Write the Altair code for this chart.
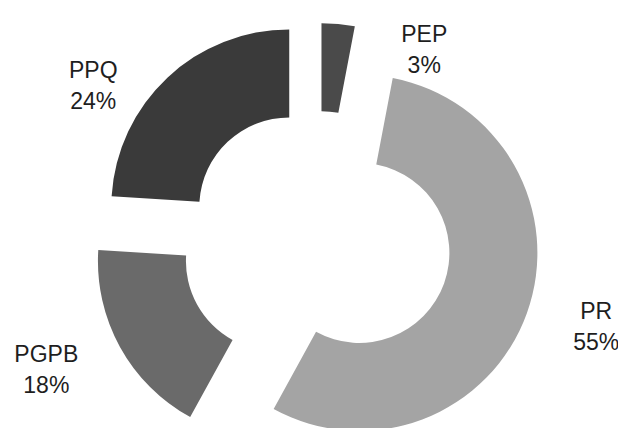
import math
import altair as alt
import pandas as pd

# ---- data ----
CATEGORIES = ["PEP", "PR", "PGPB", "PPQ"]
PERCENTS = [3, 55, 18, 24]

# ---- styles ----
COLORS = ["#4a4a4a", "#a4a4a4", "#6a6a6a", "#3a3a3a"]
EXPLODE = [37, 44, 48, 42]            # radial offset of each slice (px)
LABEL_SHIFT = [26.4, -5.8, 6.6, -11.9]  # label angle shift from slice mid-angle (deg)
LABEL_DIST = [195, 244, 248, 239]     # label distance from slice centre (px)
CX, CY = 310, 230
OUTER_R, INNER_R = 178, 90

df = pd.DataFrame({
    "cat": CATEGORIES,
    "value": PERCENTS,
    "idx": list(range(len(CATEGORIES))),
    "explode": EXPLODE,
    "lshift": LABEL_SHIFT,
    "ldist": LABEL_DIST,
})

base = alt.Chart(df).transform_window(
    cum="sum(value)", sort=[alt.SortField("idx")]
).transform_joinaggregate(
    total="sum(value)"
).transform_calculate(
    start="(datum.cum - datum.value) / datum.total * 100",
    end="datum.cum / datum.total * 100",
    mid="(datum.cum - datum.value / 2) / datum.total * 2 * PI",
).transform_calculate(
    cx=f"{CX} + datum.explode * sin(datum.mid)",
    cy=f"{CY} - datum.explode * cos(datum.mid)",
).transform_calculate(
    lx="datum.cx + datum.ldist * sin(datum.mid + datum.lshift * PI / 180)",
    ly="datum.cy - datum.ldist * cos(datum.mid + datum.lshift * PI / 180)",
    label="datum.cat + '\\n' + datum.value + '%'",
)

arcs = base.mark_arc(outerRadius=OUTER_R, innerRadius=INNER_R, stroke=None).encode(
    theta=alt.Theta("start:Q", scale=alt.Scale(domain=[0, 100], range=[0, 2 * math.pi])),
    theta2="end:Q",
    x=alt.X("cx:Q", scale=None),
    y=alt.Y("cy:Q", scale=None),
    color=alt.Color("cat:N", scale=alt.Scale(domain=CATEGORIES, range=COLORS), legend=None),
)

labels = base.mark_text(
    font="Liberation Sans", fontSize=23, lineHeight=31, lineBreak="\n",
    align="center", baseline="middle", color="#1e1e1e",
).encode(
    x=alt.X("lx:Q", scale=None),
    y=alt.Y("ly:Q", scale=None),
    text="label:N",
)

chart = alt.layer(arcs, labels).properties(
    width=610, height=420, padding=0, autosize=alt.AutoSizeParams(type="none"),
    background="white",
).configure_view(stroke=None)

chart.save("out.html", embed_options={"renderer": "svg", "actions": False})
